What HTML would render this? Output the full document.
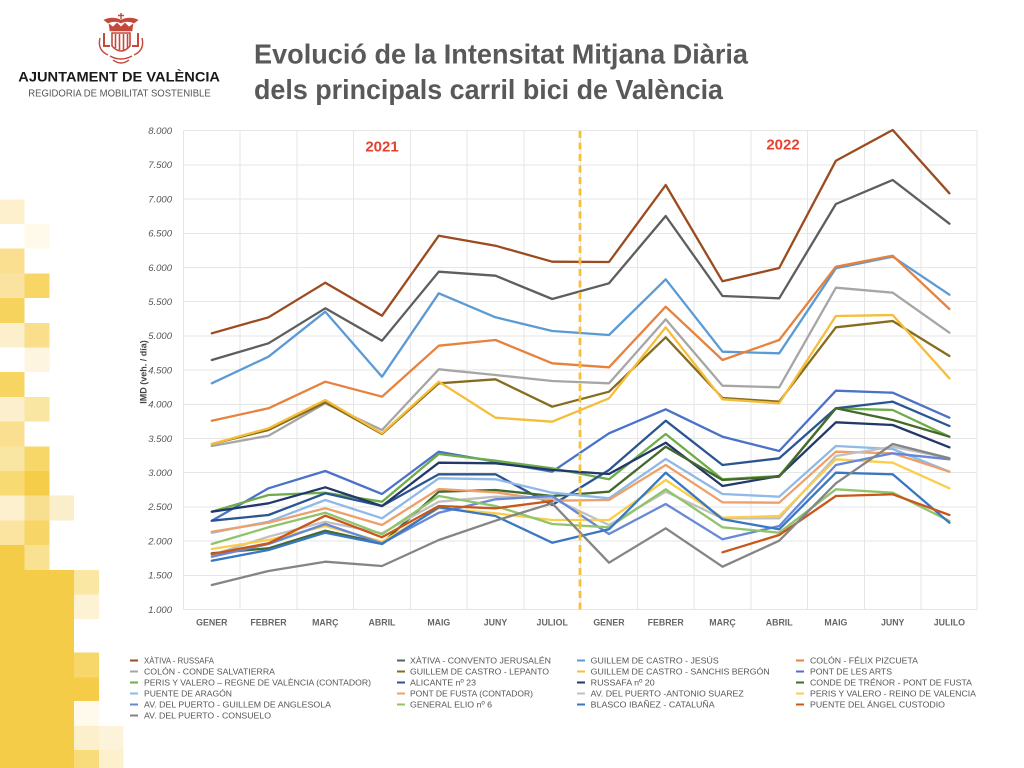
<!DOCTYPE html>
<html><head><meta charset="utf-8"><style>
html,body{margin:0;padding:0;background:#fff;}
svg{display:block;}
text{font-family:"Liberation Sans",Arial,sans-serif;}
</style></head><body>
<svg width="1024" height="768" viewBox="0 0 1024 768" xmlns="http://www.w3.org/2000/svg">
<rect width="1024" height="768" fill="#fff"/>
<!-- mosaic -->
<g shape-rendering="crispEdges">
<rect x="0" y="199.3" width="24.7" height="24.7" fill="#fdf0cc"/>
<rect x="24.7" y="224" width="24.7" height="24.7" fill="#fffaea"/>
<rect x="0" y="248.7" width="24.7" height="24.7" fill="#f9df8f"/>
<rect x="0" y="273.4" width="24.7" height="24.7" fill="#fae3a0"/>
<rect x="24.7" y="273.4" width="24.7" height="24.7" fill="#f7d666"/>
<rect x="0" y="298.1" width="24.7" height="24.7" fill="#f6d35d"/>
<rect x="0" y="322.8" width="24.7" height="24.7" fill="#fcefcc"/>
<rect x="24.7" y="322.8" width="24.7" height="24.7" fill="#f9df8c"/>
<rect x="24.7" y="347.5" width="24.7" height="24.7" fill="#fdf5df"/>
<rect x="0" y="372.2" width="24.7" height="24.7" fill="#f6d560"/>
<rect x="0" y="396.9" width="24.7" height="24.7" fill="#fcefcd"/>
<rect x="24.7" y="396.9" width="24.7" height="24.7" fill="#fae6a3"/>
<rect x="0" y="421.6" width="24.7" height="24.7" fill="#f9df8f"/>
<rect x="0" y="446.3" width="24.7" height="24.7" fill="#fae6a3"/>
<rect x="24.7" y="446.3" width="24.7" height="24.7" fill="#f7d768"/>
<rect x="0" y="471" width="24.7" height="24.7" fill="#f8da72"/>
<rect x="24.7" y="471" width="24.7" height="24.7" fill="#f5cd48"/>
<rect x="0" y="495.7" width="24.7" height="24.7" fill="#fdf0cf"/>
<rect x="24.7" y="495.7" width="24.7" height="24.7" fill="#f8df8f"/>
<rect x="49.4" y="495.7" width="24.7" height="24.7" fill="#fbeecb"/>
<rect x="0" y="520.4" width="24.7" height="24.7" fill="#fae4a0"/>
<rect x="24.7" y="520.4" width="24.7" height="24.7" fill="#f7d566"/>
<rect x="0" y="545.1" width="24.7" height="24.7" fill="#f5cc47"/>
<rect x="24.7" y="545.1" width="24.7" height="24.7" fill="#f9e192"/>
<rect x="0" y="569.8" width="74.1" height="198.2" fill="#f5cc47"/>
<rect x="74.1" y="569.8" width="24.7" height="24.7" fill="#fae7a4"/>
<rect x="74.1" y="594.5" width="24.7" height="24.7" fill="#fdf2d4"/>
<rect x="74.1" y="652.7" width="24.7" height="24.6" fill="#f7d76a"/>
<rect x="74.1" y="677.3" width="24.7" height="23.7" fill="#f5cc47"/>
<rect x="74.1" y="701" width="24.7" height="25" fill="#fffaeb"/>
<rect x="74.1" y="726" width="24.7" height="24" fill="#fcefcc"/>
<rect x="98.8" y="726" width="24.7" height="24" fill="#fdf3da"/>
<rect x="74.1" y="750" width="24.7" height="18" fill="#f8db7a"/>
<rect x="98.8" y="750" width="24.7" height="18" fill="#fcf0cd"/>
</g>
<!-- crest -->
<g fill="#c4493b" stroke="#c4493b">
<path d="M121 13 L121 19 M118 15.5 L124 15.5" stroke-width="1.4" fill="none"/>
<path d="M104 20 Q112 16 121 20 Q130 16 138 20 L134 23 Q127 20 121 23 Q115 20 108 23 Z" stroke-width="0.6"/>
<path d="M109 24 L113 27 L117 23 L121 27 L125 23 L129 27 L133 24 L132 31 L110 31 Z" stroke-width="0.6"/>
<path d="M112 33 L130 33 L130 46 Q121 56 112 46 Z" fill="none" stroke-width="1.6"/>
<path d="M115.5 34 L115.5 48 M119.5 34 L119.5 51 M123.5 34 L123.5 51 M127.5 34 L127.5 48" stroke-width="1.6" fill="none"/>
<path d="M104 33 L104 46 L110 46 M138 33 L138 46 L132 46" stroke-width="2" fill="none"/>
<path d="M100 38 Q97 50 108 55 M142 38 Q145 50 134 55" stroke-width="1.4" fill="none"/>
<path d="M110 56 Q121 62 132 56 M113 60 Q121 66 129 60" stroke-width="1.4" fill="none"/>
</g>
<text x="18.3" y="81.7" font-size="14" font-weight="bold" fill="#1a1a1a" textLength="201.7" lengthAdjust="spacingAndGlyphs">AJUNTAMENT DE VALÈNCIA</text>
<text x="28.3" y="96.7" font-size="10" fill="#555" textLength="182.4" lengthAdjust="spacingAndGlyphs">REGIDORIA DE MOBILITAT SOSTENIBLE</text>
<!-- title -->
<text x="254" y="63.3" font-size="28" font-weight="bold" fill="#595959" textLength="494" lengthAdjust="spacingAndGlyphs">Evolució de la Intensitat Mitjana Diària</text>
<text x="254" y="99" font-size="28" font-weight="bold" fill="#595959" textLength="469" lengthAdjust="spacingAndGlyphs">dels principals carril bici de València</text>
<!-- grid -->
<g stroke="#e6e6e6" stroke-width="1" shape-rendering="crispEdges">
<line x1="183.3" y1="130.7" x2="977" y2="130.7"/>
<line x1="183.3" y1="164.9" x2="977" y2="164.9"/>
<line x1="183.3" y1="199.1" x2="977" y2="199.1"/>
<line x1="183.3" y1="233.3" x2="977" y2="233.3"/>
<line x1="183.3" y1="267.5" x2="977" y2="267.5"/>
<line x1="183.3" y1="301.7" x2="977" y2="301.7"/>
<line x1="183.3" y1="335.9" x2="977" y2="335.9"/>
<line x1="183.3" y1="370.1" x2="977" y2="370.1"/>
<line x1="183.3" y1="404.3" x2="977" y2="404.3"/>
<line x1="183.3" y1="438.5" x2="977" y2="438.5"/>
<line x1="183.3" y1="472.7" x2="977" y2="472.7"/>
<line x1="183.3" y1="506.9" x2="977" y2="506.9"/>
<line x1="183.3" y1="541.1" x2="977" y2="541.1"/>
<line x1="183.3" y1="575.3" x2="977" y2="575.3"/>
<line x1="183.3" y1="609.5" x2="977" y2="609.5"/>
<line x1="183.4" y1="130.7" x2="183.4" y2="609.5"/>
<line x1="240.2" y1="130.7" x2="240.2" y2="609.5"/>
<line x1="296.9" y1="130.7" x2="296.9" y2="609.5"/>
<line x1="353.6" y1="130.7" x2="353.6" y2="609.5"/>
<line x1="410.4" y1="130.7" x2="410.4" y2="609.5"/>
<line x1="467.1" y1="130.7" x2="467.1" y2="609.5"/>
<line x1="523.8" y1="130.7" x2="523.8" y2="609.5"/>
<line x1="580.6" y1="130.7" x2="580.6" y2="609.5"/>
<line x1="637.3" y1="130.7" x2="637.3" y2="609.5"/>
<line x1="694.1" y1="130.7" x2="694.1" y2="609.5"/>
<line x1="750.8" y1="130.7" x2="750.8" y2="609.5"/>
<line x1="807.5" y1="130.7" x2="807.5" y2="609.5"/>
<line x1="864.3" y1="130.7" x2="864.3" y2="609.5"/>
<line x1="921" y1="130.7" x2="921" y2="609.5"/>
<line x1="977" y1="130.7" x2="977" y2="609.5"/>
</g>
<!-- y labels -->
<g font-size="9.5" font-style="italic" fill="#555" text-anchor="end">
<text x="172" y="134">8.000</text>
<text x="172" y="168.2">7.500</text>
<text x="172" y="202.4">7.000</text>
<text x="172" y="236.6">6.500</text>
<text x="172" y="270.8">6.000</text>
<text x="172" y="305">5.500</text>
<text x="172" y="339.2">5.000</text>
<text x="172" y="373.4">4.500</text>
<text x="172" y="407.6">4.000</text>
<text x="172" y="441.8">3.500</text>
<text x="172" y="476">3.000</text>
<text x="172" y="510.2">2.500</text>
<text x="172" y="544.4">2.000</text>
<text x="172" y="578.6">1.500</text>
<text x="172" y="612.8">1.000</text>
</g>
<text transform="translate(146.5,372) rotate(-90)" font-size="9" font-weight="bold" fill="#444" text-anchor="middle">IMD (veh. / día)</text>
<!-- x labels -->
<g font-size="8.8" font-weight="bold" fill="#666" text-anchor="middle">
<text x="211.8" y="625.5">GENER</text>
<text x="268.5" y="625.5">FEBRER</text>
<text x="325.3" y="625.5">MARÇ</text>
<text x="382" y="625.5">ABRIL</text>
<text x="438.8" y="625.5">MAIG</text>
<text x="495.5" y="625.5">JUNY</text>
<text x="552.2" y="625.5">JULIOL</text>
<text x="609" y="625.5">GENER</text>
<text x="665.7" y="625.5">FEBRER</text>
<text x="722.5" y="625.5">MARÇ</text>
<text x="779.2" y="625.5">ABRIL</text>
<text x="835.9" y="625.5">MAIG</text>
<text x="892.7" y="625.5">JUNY</text>
<text x="949.4" y="625.5">JULILO</text>
</g>
<!-- year labels -->
<text x="382" y="151.5" font-size="15" font-weight="bold" fill="#e8402e" text-anchor="middle">2021</text>
<text x="783" y="149.3" font-size="15" font-weight="bold" fill="#e8402e" text-anchor="middle">2022</text>
<!-- series -->
<g fill="none" stroke-width="2.3" stroke-linejoin="round" stroke-linecap="round">
<polyline stroke="#9c4b1f" points="211.8,333.3 268.5,317.3 325.3,282.7 382,315.7 438.8,235.7 495.5,245.7 552.2,261.7 609,262 665.7,185 722.5,281.3 779.2,268 835.9,160.7 892.7,130 949.4,193.3"/>
<polyline stroke="#5e5e5e" points="211.8,360 268.5,343.3 325.3,308.3 382,340.7 438.8,271.7 495.5,275.7 552.2,299 609,283.3 665.7,216 722.5,296 779.2,298.3 835.9,204 892.7,180 949.4,223.7"/>
<polyline stroke="#5b9bd5" points="211.8,383.3 268.5,356.7 325.3,311.7 382,376.7 438.8,293.3 495.5,317.3 552.2,331 609,335 665.7,279.3 722.5,351.7 779.2,353.3 835.9,268.3 892.7,256.7 949.4,294.7"/>
<polyline stroke="#e6823e" points="211.8,420.7 268.5,408.3 325.3,381.7 382,396.7 438.8,345.7 495.5,340 552.2,363.3 609,367.3 665.7,306.7 722.5,360 779.2,340 835.9,266.7 892.7,255.7 949.4,309"/>
<polyline stroke="#a6a6a6" points="211.8,446 268.5,435.7 325.3,403.3 382,430 438.8,369.3 495.5,375 552.2,381 609,383.3 665.7,319.3 722.5,385.7 779.2,387.3 835.9,287.7 892.7,292.7 949.4,332.7"/>
<polyline stroke="#856c1e" points="211.8,444 268.5,430 325.3,402.3 382,434 438.8,383.3 495.5,379.3 552.2,406.7 609,391.7 665.7,337.3 722.5,398 779.2,401.7 835.9,327.3 892.7,321 949.4,356"/>
<polyline stroke="#f5bd3a" points="211.8,444 268.5,428.3 325.3,400 382,433.3 438.8,381.7 495.5,417.7 552.2,421.7 609,398.3 665.7,327.3 722.5,399.3 779.2,403.3 835.9,316 892.7,315 949.4,378.3"/>
<polyline stroke="#4a72c8" points="211.8,520.7 268.5,488.3 325.3,471 382,494 438.8,451.7 495.5,461.7 552.2,471.7 609,433.3 665.7,409.3 722.5,436.7 779.2,451 835.9,390.7 892.7,392.7 949.4,417.7"/>
<polyline stroke="#6eac48" points="211.8,511.7 268.5,495 325.3,492.7 382,501.7 438.8,454 495.5,460.7 552.2,468.3 609,479.3 665.7,434 722.5,479.3 779.2,476 835.9,408.3 892.7,410 949.4,436.7"/>
<polyline stroke="#2b5591" points="211.8,520.7 268.5,515 325.3,493.3 382,506 438.8,474.3 495.5,474.3 552.2,505 609,470 665.7,420.7 722.5,465 779.2,458.3 835.9,408.3 892.7,401.7 949.4,426"/>
<polyline stroke="#22386a" points="211.8,511.7 268.5,503.3 325.3,487.3 382,506 438.8,462.7 495.5,463.3 552.2,470 609,474 665.7,442.7 722.5,486 779.2,476 835.9,422.3 892.7,425 949.4,447.3"/>
<polyline stroke="#44692b" points="211.8,553.3 268.5,548.3 325.3,530.7 382,543.3 438.8,491.7 495.5,490 552.2,496 609,491.7 665.7,446.7 722.5,480 779.2,476.7 835.9,408.3 892.7,420 949.4,436.7"/>
<polyline stroke="#8fb9e6" points="211.8,532.7 268.5,521.7 325.3,500 382,518.3 438.8,478.3 495.5,479.3 552.2,492.7 609,498.3 665.7,459 722.5,494 779.2,496.7 835.9,446 892.7,449 949.4,471.7"/>
<polyline stroke="#eea06a" points="211.8,531.7 268.5,522.7 325.3,508.3 382,525 438.8,489 495.5,492.3 552.2,500.7 609,500 665.7,465 722.5,502.3 779.2,502.7 835.9,451.7 892.7,453.3 949.4,471.7"/>
<polyline stroke="#c0c0c0" points="211.8,555 268.5,536.7 325.3,521.7 382,533.3 438.8,501.7 495.5,496.7 552.2,498.3 609,525 665.7,491.7 722.5,518.3 779.2,518.3 835.9,456 892.7,446.7 949.4,458.3"/>
<polyline stroke="#fbcd48" points="211.8,549 268.5,540 325.3,526 382,541.7 438.8,508.3 495.5,513.3 552.2,520 609,520 665.7,480 722.5,517.7 779.2,516 835.9,459.3 892.7,462.7 949.4,488.3"/>
<polyline stroke="#6688d6" points="211.8,556.7 268.5,544 325.3,524 382,543.3 438.8,512.7 495.5,499.3 552.2,496 609,534 665.7,504 722.5,539.3 779.2,526 835.9,465 892.7,453.3 949.4,459.3"/>
<polyline stroke="#90c46c" points="211.8,544 268.5,527.3 325.3,512.7 382,534.3 438.8,496 495.5,506 552.2,524 609,527.3 665.7,489.3 722.5,527.3 779.2,532.7 835.9,489.3 892.7,492.7 949.4,521"/>
<polyline stroke="#3a77c2" points="211.8,560.7 268.5,550 325.3,532.7 382,544 438.8,507.3 495.5,516 552.2,542.7 609,529.3 665.7,472.7 722.5,519.3 779.2,529.3 835.9,472.7 892.7,474.3 949.4,522.7"/>
<polyline stroke="#c9561a" points="211.8,554 268.5,543.3 325.3,515.7 382,537.3 438.8,506 495.5,508.3 552.2,501"/>
<polyline stroke="#c9561a" points="722.5,552.3 779.2,535 835.9,496 892.7,494.3 949.4,515"/>
<polyline stroke="#858585" points="211.8,585 268.5,571 325.3,561.7 382,566 438.8,540 495.5,520.7 552.2,503.3 609,562.7 665.7,528.3 722.5,566.7 779.2,540.7 835.9,483.3 892.7,444 949.4,458.3"/>
</g>
<!-- dashed divider -->
<line x1="580" y1="131" x2="580" y2="611" stroke="#f8c03a" stroke-width="2.8" stroke-dasharray="7 4.5"/>
<!-- legend -->
<g stroke-width="2" shape-rendering="crispEdges">
<line x1="130" y1="660.5" x2="138" y2="660.5" stroke="#9c4b1f"/>
<line x1="130" y1="671.5" x2="138" y2="671.5" stroke="#a6a6a6"/>
<line x1="130" y1="682.5" x2="138" y2="682.5" stroke="#6eac48"/>
<line x1="130" y1="693.5" x2="138" y2="693.5" stroke="#8fb9e6"/>
<line x1="130" y1="704.5" x2="138" y2="704.5" stroke="#6688d6"/>
<line x1="130" y1="715.5" x2="138" y2="715.5" stroke="#858585"/>
<line x1="397" y1="660.5" x2="405" y2="660.5" stroke="#5e5e5e"/>
<line x1="397" y1="671.5" x2="405" y2="671.5" stroke="#856c1e"/>
<line x1="397" y1="682.5" x2="405" y2="682.5" stroke="#2b5591"/>
<line x1="397" y1="693.5" x2="405" y2="693.5" stroke="#eea06a"/>
<line x1="397" y1="704.5" x2="405" y2="704.5" stroke="#90c46c"/>
<line x1="577" y1="660.5" x2="585" y2="660.5" stroke="#5b9bd5"/>
<line x1="577" y1="671.5" x2="585" y2="671.5" stroke="#f5bd3a"/>
<line x1="577" y1="682.5" x2="585" y2="682.5" stroke="#22386a"/>
<line x1="577" y1="693.5" x2="585" y2="693.5" stroke="#c0c0c0"/>
<line x1="577" y1="704.5" x2="585" y2="704.5" stroke="#3a77c2"/>
<line x1="796" y1="660.5" x2="804" y2="660.5" stroke="#e6823e"/>
<line x1="796" y1="671.5" x2="804" y2="671.5" stroke="#4a72c8"/>
<line x1="796" y1="682.5" x2="804" y2="682.5" stroke="#44692b"/>
<line x1="796" y1="693.5" x2="804" y2="693.5" stroke="#fbcd48"/>
<line x1="796" y1="704.5" x2="804" y2="704.5" stroke="#c9561a"/>
</g>
<g font-size="8.5" fill="#555">
<text x="144" y="663.6" textLength="70" lengthAdjust="spacingAndGlyphs">XÀTIVA - RUSSAFA</text>
<text x="144" y="674.6" textLength="131" lengthAdjust="spacingAndGlyphs">COLÓN - CONDE SALVATIERRA</text>
<text x="144" y="685.6" textLength="227" lengthAdjust="spacingAndGlyphs">PERIS Y VALERO – REGNE DE VALÈNCIA (CONTADOR)</text>
<text x="144" y="696.6" textLength="88" lengthAdjust="spacingAndGlyphs">PUENTE DE ARAGÓN</text>
<text x="144" y="707.6" textLength="187" lengthAdjust="spacingAndGlyphs">AV. DEL PUERTO - GUILLEM DE ANGLESOLA</text>
<text x="144" y="718.6" textLength="127" lengthAdjust="spacingAndGlyphs">AV. DEL PUERTO - CONSUELO</text>
<text x="410" y="663.6" textLength="141" lengthAdjust="spacingAndGlyphs">XÀTIVA - CONVENTO JERUSALÉN</text>
<text x="410" y="674.6" textLength="139" lengthAdjust="spacingAndGlyphs">GUILLEM DE CASTRO - LEPANTO</text>
<text x="410" y="685.6" textLength="66" lengthAdjust="spacingAndGlyphs">ALICANTE nº 23</text>
<text x="410" y="696.6" textLength="123" lengthAdjust="spacingAndGlyphs">PONT DE FUSTA (CONTADOR)</text>
<text x="410" y="707.6" textLength="82" lengthAdjust="spacingAndGlyphs">GENERAL ELIO nº 6</text>
<text x="590.7" y="663.6" textLength="128" lengthAdjust="spacingAndGlyphs">GUILLEM DE CASTRO - JESÚS</text>
<text x="590.7" y="674.6" textLength="179" lengthAdjust="spacingAndGlyphs">GUILLEM DE CASTRO - SANCHIS BERGÓN</text>
<text x="590.7" y="685.6" textLength="64" lengthAdjust="spacingAndGlyphs">RUSSAFA nº 20</text>
<text x="590.7" y="696.6" textLength="153" lengthAdjust="spacingAndGlyphs">AV. DEL PUERTO -ANTONIO SUAREZ</text>
<text x="590.7" y="707.6" textLength="124" lengthAdjust="spacingAndGlyphs">BLASCO IBAÑEZ - CATALUÑA</text>
<text x="810" y="663.6" textLength="108" lengthAdjust="spacingAndGlyphs">COLÓN - FÉLIX PIZCUETA</text>
<text x="810" y="674.6" textLength="82" lengthAdjust="spacingAndGlyphs">PONT DE LES ARTS</text>
<text x="810" y="685.6" textLength="162" lengthAdjust="spacingAndGlyphs">CONDE DE TRÉNOR - PONT DE FUSTA</text>
<text x="810" y="696.6" textLength="166" lengthAdjust="spacingAndGlyphs">PERIS Y VALERO - REINO DE VALENCIA</text>
<text x="810" y="707.6" textLength="135" lengthAdjust="spacingAndGlyphs">PUENTE DEL ÁNGEL CUSTODIO</text>
</g>
</svg>
</body></html>
